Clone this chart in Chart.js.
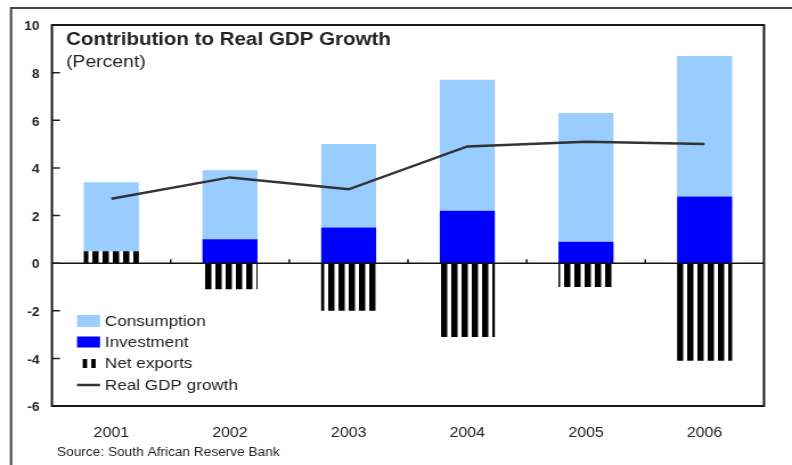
<!DOCTYPE html>
<html>
<head>
<meta charset="utf-8">
<script src="https://cdn.jsdelivr.net/npm/chart.js@4.4.1/dist/chart.umd.min.js"></script>
<style>
  html, body { margin: 0; padding: 0; background: #fff; overflow: hidden; }
  /* the chart is laid out narrower and stretched sideways, like the printed original */
  #wrap { width: 695px; height: 465px; transform: scaleX(1.13957); transform-origin: 0 0; }
</style>
</head>
<body>
<div id="wrap"><canvas id="gdpChart" width="695" height="465"></canvas></div>
<script>
const years = ['2001', '2002', '2003', '2004', '2005', '2006'];
const consumption = [2.9, 2.9, 3.5, 5.5, 5.4, 5.9];
const investment = [0, 1.0, 1.5, 2.2, 0.9, 2.8];
const netExports = [0.5, -1.1, -2.0, -3.1, -1.0, -4.1];
const realGdpGrowth = [2.7, 3.6, 3.1, 4.9, 5.1, 5.0];
const yTicks = [-6, -4, -2, 0, 2, 4, 6, 8, 10];

const titleText = 'Contribution to Real GDP Growth';
const unitText = '(Percent)';
const sourceText = 'Source: South African Reserve Bank';
const legendLabels = ['Consumption', 'Investment', 'Net exports', 'Real GDP growth'];

const FONT = "'Liberation Sans', Arial, sans-serif";
const LIGHT_BLUE = '#99ccff';
const BLUE = '#0000ff';
const INK = '#222';

// vertical black stripes for net exports
const stripeCanvas = document.createElement('canvas');
stripeCanvas.width = 9;
stripeCanvas.height = 4;
const sctx = stripeCanvas.getContext('2d');
sctx.fillStyle = '#000';
sctx.fillRect(0, 0, 5.5, 4);
const stripes = sctx.createPattern(stripeCanvas, 'repeat');

const decorations = {
    id: 'decorations',
    afterDraw(chart) {
        const { ctx, chartArea: a, scales: { x, y } } = chart;
        ctx.save();

        // outer frame (left and top edges)
        ctx.strokeStyle = '#444';
        ctx.lineWidth = 2;
        ctx.beginPath();
        ctx.moveTo(9.7, 465);
        ctx.lineTo(9.7, 8);
        ctx.lineTo(chart.width, 8);
        ctx.stroke();

        // zero line
        const y0 = y.getPixelForValue(0);
        ctx.strokeStyle = '#111';
        ctx.lineWidth = 1.5;
        ctx.beginPath();
        ctx.moveTo(a.left, y0);
        ctx.lineTo(a.right, y0);
        ctx.stroke();

        // tiny ticks on the zero line between years
        const half = (x.getPixelForValue(1) - x.getPixelForValue(0)) / 2;
        ctx.lineWidth = 1.5;
        ctx.beginPath();
        for (let i = 0; i < years.length - 1; i++) {
            const px = x.getPixelForValue(i) + half;
            ctx.moveTo(px, y0);
            ctx.lineTo(px, y0 - 4);
        }
        ctx.stroke();

        // inward y ticks
        ctx.strokeStyle = '#222';
        ctx.lineWidth = 1.5;
        ctx.beginPath();
        y.ticks.forEach(t => {
            const py = y.getPixelForValue(t.value);
            ctx.moveTo(a.left, py);
            ctx.lineTo(a.left + 7, py);
        });
        ctx.stroke();

        // plot box
        ctx.strokeStyle = '#1a1a1a';
        ctx.lineWidth = 2;
        ctx.strokeRect(a.left, a.top, a.right - a.left, a.bottom - a.top);

        // title
        ctx.fillStyle = INK;
        ctx.textAlign = 'left';
        ctx.textBaseline = 'alphabetic';
        ctx.font = 'bold 18px ' + FONT;
        ctx.fillText(titleText, a.left + 12.3, 45);
        ctx.font = '17px ' + FONT;
        ctx.fillText(unitText, a.left + 12.3, 67);

        // legend
        const lx = 67.6;
        const tx = 92.1;
        const rows = [321, 342, 363, 385];
        ctx.fillStyle = LIGHT_BLUE;
        ctx.fillRect(lx, rows[0] - 6, 20.2, 12);
        ctx.fillStyle = BLUE;
        ctx.fillRect(lx, rows[1] - 5.5, 20.2, 11);
        ctx.fillStyle = '#000';
        ctx.fillRect(lx + 5, rows[2] - 4, 3.8, 9);
        ctx.fillRect(lx + 12.5, rows[2] - 4, 3.8, 9);
        ctx.strokeStyle = '#333';
        ctx.lineWidth = 2.5;
        ctx.beginPath();
        ctx.moveTo(lx, rows[3]);
        ctx.lineTo(lx + 20.2, rows[3]);
        ctx.stroke();

        ctx.fillStyle = INK;
        ctx.font = '15px ' + FONT;
        ctx.textBaseline = 'middle';
        legendLabels.forEach((label, i) => ctx.fillText(label, tx, rows[i] + 1));

        // source note
        ctx.font = '12px ' + FONT;
        ctx.fillText(sourceText, 50, 453);

        ctx.restore();
    }
};

new Chart(document.getElementById('gdpChart').getContext('2d'), {
    type: 'bar',
    data: {
        labels: years,
        datasets: [
            {
                type: 'line',
                label: legendLabels[3],
                data: realGdpGrowth,
                borderColor: '#333',
                borderWidth: 2.5,
                pointRadius: 0,
                tension: 0,
                fill: false,
                stack: 'gdp',
                order: 0
            },
            {
                label: legendLabels[2],
                data: netExports,
                backgroundColor: stripes,
                stack: 'parts',
                order: 1
            },
            {
                label: legendLabels[1],
                data: investment,
                backgroundColor: BLUE,
                stack: 'parts',
                order: 1
            },
            {
                label: legendLabels[0],
                data: consumption,
                backgroundColor: LIGHT_BLUE,
                stack: 'parts',
                order: 1
            }
        ]
    },
    options: {
        responsive: false,
        animation: false,
        devicePixelRatio: 1,
        datasets: {
            bar: {
                barPercentage: 0.464,
                categoryPercentage: 1,
                borderWidth: 0
            }
        },
        layout: {
            padding: { top: 25, right: 24.6, left: 0, bottom: 0 }
        },
        plugins: {
            legend: { display: false },
            tooltip: { enabled: false }
        },
        scales: {
            x: {
                stacked: true,
                grid: { display: false },
                border: { display: false },
                ticks: {
                    color: INK,
                    font: { family: FONT, size: 14 },
                    padding: 11
                },
                afterFit: (scale) => { scale.height = 59; }
            },
            y: {
                stacked: true,
                min: yTicks[0],
                max: yTicks[yTicks.length - 1],
                grid: { display: false, drawTicks: false },
                border: { display: false },
                ticks: {
                    stepSize: 2,
                    color: INK,
                    font: { family: FONT, size: 12, weight: 'bold' },
                    padding: 11,
                    labelOffset: 2
                },
                afterFit: (scale) => { scale.width = 45.6; }
            }
        }
    },
    plugins: [decorations]
});
</script>
</body>
</html>
